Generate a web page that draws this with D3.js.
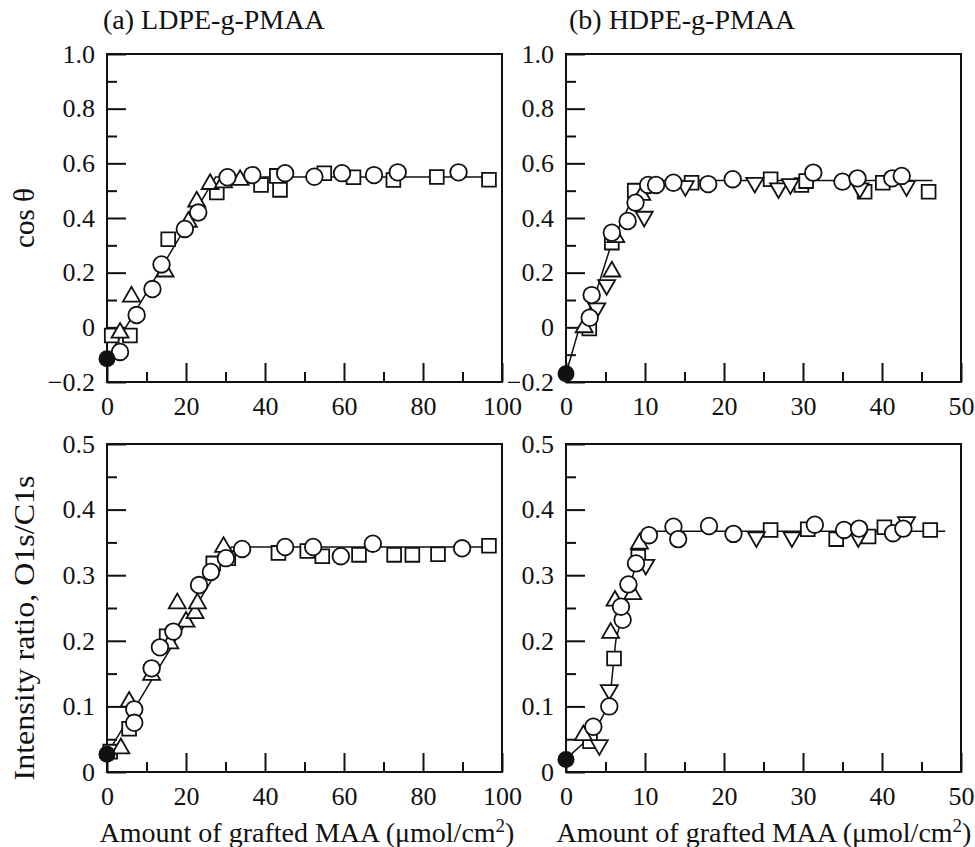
<!DOCTYPE html>
<html>
<head>
<meta charset="utf-8">
<script src="https://cdn.jsdelivr.net/npm/d3@7"></script>
<style>
  body { margin: 0; background: #fff; }
  text { font-family: "Liberation Serif", "Times New Roman", serif; fill: #111; }
</style>
</head>
<body>
<div id="chart"></div>
<script>
// ---- data ----
const panelTitles = ["(a) LDPE-g-PMAA", "(b) HDPE-g-PMAA"];
const xLabel = "Amount of grafted MAA (μmol/cm";
const cosLabel = "cos θ";
const ratioLabel = "Intensity ratio, O1s/C1s";

const ldpeTicks = [0, 20, 40, 60, 80, 100];
const ldpeMinor = [10, 30, 50, 70, 90];
const hdpeTicks = [0, 10, 20, 30, 40, 50];
const hdpeMinor = [5, 15, 25, 35, 45];
const cosTicks = [-0.2, 0, 0.2, 0.4, 0.6, 0.8, 1.0];
const cosMinor = [-0.1, 0.1, 0.3, 0.5, 0.7, 0.9];
const ratioTicks = [0, 0.1, 0.2, 0.3, 0.4, 0.5];
const ratioMinor = [0.05, 0.15, 0.25, 0.35, 0.45];

// (a) LDPE, cos theta
const ldpeCosStart = [[0, -0.115]];
const ldpeCosCircle = [[3.3, -0.09], [7.5, 0.045], [11.5, 0.14], [13.8, 0.23], [19.7, 0.36], [23.1, 0.42],
    [30.5, 0.549], [36.8, 0.557], [45.1, 0.564], [52.5, 0.551], [59.5, 0.564], [67.6, 0.557],
    [73.6, 0.567], [89, 0.567]];
const ldpeCosSquare = [[1.2, -0.03], [5.8, -0.03], [15.5, 0.322], [27.8, 0.493], [39, 0.521], [43, 0.554],
    [43.8, 0.503], [55, 0.564], [62.4, 0.549], [72.5, 0.539], [83.5, 0.55], [96.7, 0.54]];
const ldpeCosTriUp = [[3.3, -0.02], [6.2, 0.112], [14.7, 0.204], [20.6, 0.386], [22.7, 0.46], [26.1, 0.524],
    [29.5, 0.53], [33.7, 0.539]];
const ldpeCosFit = [[0, -0.115], [27.5, 0.55], [97, 0.55]];

// (b) HDPE, cos theta
const hdpeCosStart = [[0, -0.17]];
const hdpeCosCircle = [[3.0, 0.035], [3.25, 0.118], [5.8, 0.346], [7.8, 0.389], [8.8, 0.456], [10.4, 0.521],
    [11.4, 0.521], [13.6, 0.529], [18.0, 0.524], [21.1, 0.542], [31.3, 0.566], [35.0, 0.533],
    [36.9, 0.545], [41.3, 0.545], [42.5, 0.554]];
const hdpeCosSquare = [[2.95, -0.004], [5.8, 0.31], [8.7, 0.5], [15.9, 0.529], [25.9, 0.542], [29.8, 0.521],
    [30.4, 0.535], [37.8, 0.496], [40.1, 0.529], [45.9, 0.496]];
const hdpeCosTriUp = [[2.3, 0.0], [5.8, 0.204], [6.3, 0.33], [9.6, 0.484]];
const hdpeCosTriDown = [[3.9, 0.07], [5.15, 0.155], [9.9, 0.405], [15.1, 0.517], [23.9, 0.529], [26.9, 0.509],
    [28.4, 0.524], [37.2, 0.509], [43.1, 0.517]];
const hdpeCosFit = [[0, -0.17], [1.5, -0.02], [3.5, 0.1], [5.8, 0.31], [8.7, 0.49], [10.4, 0.537], [46.4, 0.537]];

// (c) LDPE, O1s/C1s
const ldpeRatioStart = [[0, 0.027]];
const ldpeRatioCircle = [[6.9, 0.0955], [6.9, 0.075], [11.3, 0.158], [13.4, 0.19], [16.8, 0.214], [23.3, 0.285],
    [26.3, 0.305], [30.1, 0.326], [34.2, 0.34], [45.1, 0.343], [52.2, 0.343], [59.2, 0.329],
    [67.3, 0.348], [89.9, 0.341]];
const ldpeRatioSquare = [[0.8, 0.031], [5.6, 0.066], [15.1, 0.207], [26.9, 0.318], [30.7, 0.326], [43.4, 0.334],
    [50.7, 0.337], [54.5, 0.329], [63.8, 0.331], [72.7, 0.331], [77.3, 0.331], [83.8, 0.332], [96.7, 0.345]];
const ldpeRatioTriUp = [[3.5, 0.036], [5.6, 0.107], [11.3, 0.148], [15.9, 0.196], [17.8, 0.257], [20.0, 0.229],
    [22.3, 0.242], [22.9, 0.257], [29.5, 0.343]];
const ldpeRatioFit = [[0, 0.027], [31.5, 0.343], [98, 0.343]];

// (d) HDPE, O1s/C1s
const hdpeRatioStart = [[0, 0.019]];
const hdpeRatioCircle = [[3.46, 0.069], [5.48, 0.1], [7.17, 0.232], [6.96, 0.252], [7.9, 0.286], [8.86, 0.318],
    [10.5, 0.361], [13.6, 0.374], [14.2, 0.355], [18.1, 0.375], [21.2, 0.363], [31.5, 0.377],
    [35.2, 0.369], [37.1, 0.371], [41.4, 0.364], [42.7, 0.371]];
const hdpeRatioSquare = [[3.04, 0.047], [6.08, 0.173], [9.15, 0.328], [25.9, 0.369], [30.6, 0.37], [34.2, 0.355],
    [38.3, 0.359], [40.3, 0.373], [46.1, 0.369]];
const hdpeRatioTriUp = [[2.2, 0.056], [5.65, 0.212], [6.2, 0.261], [8.44, 0.271], [9.3, 0.348]];
const hdpeRatioTriDown = [[4.22, 0.041], [5.48, 0.125], [10.1, 0.316], [24.1, 0.358], [28.6, 0.358],
    [37.0, 0.358], [43.1, 0.381]];
const hdpeRatioFit = [[0, 0.02], [3.5, 0.058], [5.5, 0.105], [6.3, 0.2], [7.7, 0.268], [9.4, 0.338],
    [10.8, 0.367], [48, 0.367]];

// ---- layout ----
const W = 975, H = 847;
const svg = d3.select("#chart").append("svg")
    .attr("width", W)
    .attr("height", H);

const fmt = d => d === 0 ? "0" : d3.format(".1f")(d);

const panels = [
    { box: [107, 502, 54, 382], xDom: [0, 100], yDom: [-0.2, 1.0], xt: ldpeTicks, xm: ldpeMinor, yt: cosTicks, ym: cosMinor,
      fit: ldpeCosFit, start: ldpeCosStart, circle: ldpeCosCircle, square: ldpeCosSquare, up: ldpeCosTriUp, down: [] },
    { box: [566, 961, 54, 382], xDom: [0, 50], yDom: [-0.2, 1.0], xt: hdpeTicks, xm: hdpeMinor, yt: cosTicks, ym: cosMinor,
      fit: hdpeCosFit, start: hdpeCosStart, circle: hdpeCosCircle, square: hdpeCosSquare, up: hdpeCosTriUp, down: hdpeCosTriDown },
    { box: [107, 502, 444, 772], xDom: [0, 100], yDom: [0, 0.5], xt: ldpeTicks, xm: ldpeMinor, yt: ratioTicks, ym: ratioMinor,
      fit: ldpeRatioFit, start: ldpeRatioStart, circle: ldpeRatioCircle, square: ldpeRatioSquare, up: ldpeRatioTriUp, down: [] },
    { box: [566, 961, 444, 772], xDom: [0, 50], yDom: [0, 0.5], xt: hdpeTicks, xm: hdpeMinor, yt: ratioTicks, ym: ratioMinor,
      fit: hdpeRatioFit, start: hdpeRatioStart, circle: hdpeRatioCircle, square: hdpeRatioSquare, up: hdpeRatioTriUp, down: hdpeRatioTriDown }
];

const triPath = d3.symbol().type(d3.symbolTriangle).size(125)();
const sqPath = d3.symbol().type(d3.symbolSquare).size(190)();

panels.forEach(p => {
    const [x0, x1, y0, y1] = p.box;
    const x = d3.scaleLinear().domain(p.xDom).range([x0, x1]);
    const y = d3.scaleLinear().domain(p.yDom).range([y1, y0]);
    const g = svg.append("g");

    // ticks (inside)
    const axisStyle = sel => {
        sel.select(".domain").remove();
        sel.selectAll("line").attr("stroke", "#111").attr("stroke-width", 2);
        sel.selectAll("text").style("font-size", "26px").attr("fill", "#111");
    };
    g.append("g").attr("transform", `translate(0,${y1})`)
        .call(d3.axisBottom(x).tickValues(p.xt).tickSize(-19).tickPadding(12).tickFormat(d3.format("d")))
        .call(axisStyle)
        .selectAll("text").attr("dy", "0.71em").attr("y", 15);
    g.append("g").attr("transform", `translate(0,${y1})`)
        .call(d3.axisBottom(x).tickValues(p.xm).tickSize(-10).tickFormat(""))
        .call(axisStyle);
    g.append("g").attr("transform", `translate(${x0},0)`)
        .call(d3.axisLeft(y).tickValues(p.yt).tickSize(-19).tickPadding(12).tickFormat(fmt))
        .call(axisStyle);
    g.append("g").attr("transform", `translate(${x0},0)`)
        .call(d3.axisLeft(y).tickValues(p.ym).tickSize(-10).tickFormat(""))
        .call(axisStyle);

    // frame
    g.append("rect")
        .attr("x", x0).attr("y", y0)
        .attr("width", x1 - x0).attr("height", y1 - y0)
        .attr("fill", "none").attr("stroke", "#111").attr("stroke-width", 2);

    // fitted line
    g.append("path")
        .datum(p.fit)
        .attr("fill", "none").attr("stroke", "#111").attr("stroke-width", 1.5)
        .attr("d", d3.line().x(d => x(d[0])).y(d => y(d[1])));

    const mk = { fill: "#fff", stroke: "#111", sw: 1.8 };

    g.append("g").selectAll("path")
        .data(p.square).join("path")
        .attr("d", sqPath)
        .attr("transform", d => `translate(${x(d[0])},${y(d[1])})`)
        .attr("fill", mk.fill).attr("stroke", mk.stroke).attr("stroke-width", mk.sw);

    g.append("g").selectAll("path")
        .data(p.up).join("path")
        .attr("d", triPath)
        .attr("transform", d => `translate(${x(d[0])},${y(d[1])})`)
        .attr("fill", mk.fill).attr("stroke", mk.stroke).attr("stroke-width", mk.sw);

    g.append("g").selectAll("path")
        .data(p.down).join("path")
        .attr("d", triPath)
        .attr("transform", d => `translate(${x(d[0])},${y(d[1])}) rotate(180)`)
        .attr("fill", mk.fill).attr("stroke", mk.stroke).attr("stroke-width", mk.sw);

    g.append("g").selectAll("circle")
        .data(p.circle).join("circle")
        .attr("cx", d => x(d[0])).attr("cy", d => y(d[1])).attr("r", 8.3)
        .attr("fill", mk.fill).attr("stroke", mk.stroke).attr("stroke-width", mk.sw);

    g.append("g").selectAll("circle")
        .data(p.start).join("circle")
        .attr("cx", d => x(d[0])).attr("cy", d => y(d[1])).attr("r", 8.5)
        .attr("fill", "#111");
});

// titles
svg.selectAll(".ptitle")
    .data(panelTitles).join("text")
    .attr("class", "ptitle")
    .attr("x", (d, i) => i === 0 ? 103 : 569)
    .attr("y", 29)
    .style("font-size", "28px")
    .text(d => d);

// x labels with superscript
[307, 764].forEach(cx => {
    const t = svg.append("text")
        .attr("x", cx).attr("y", 842)
        .attr("text-anchor", "middle")
        .style("font-size", "28px");
    t.append("tspan").text(xLabel);
    t.append("tspan").attr("dy", -10).style("font-size", "19px").text("2");
    t.append("tspan").attr("dy", 10).text(")");
});

// y labels
svg.append("text")
    .attr("transform", "translate(34,218) rotate(-90)")
    .attr("text-anchor", "middle")
    .style("font-size", "29px")
    .text(cosLabel);
svg.append("text")
    .attr("transform", "translate(34,628) rotate(-90)")
    .attr("text-anchor", "middle")
    .style("font-size", "29px")
    .attr("textLength", 305)
    .attr("lengthAdjust", "spacingAndGlyphs")
    .text(ratioLabel);
</script>
</body>
</html>
